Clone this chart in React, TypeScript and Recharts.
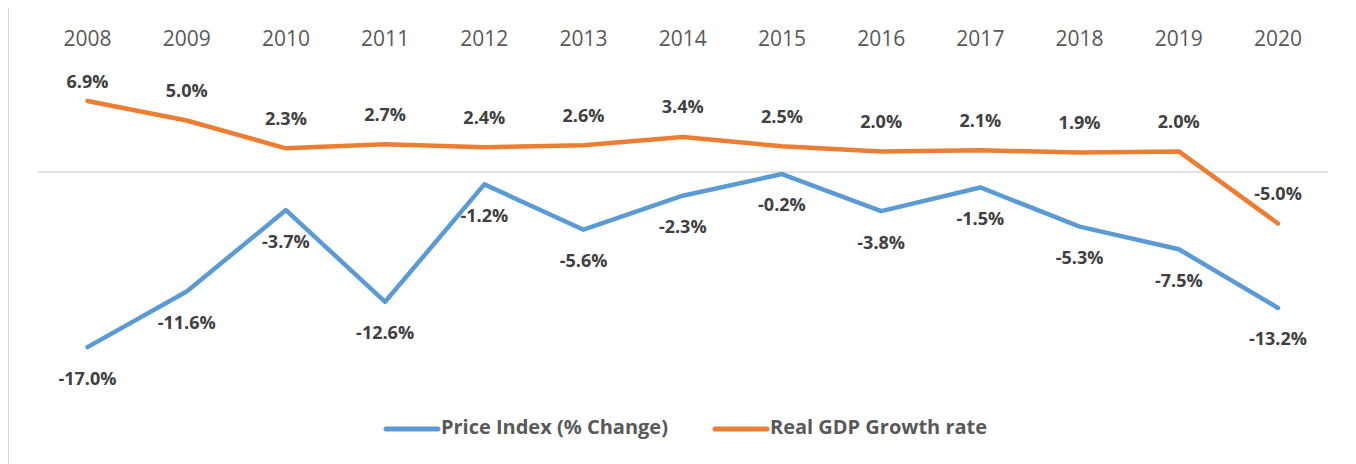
import React from 'react';
import { LineChart, Line, XAxis, YAxis, ReferenceLine, Legend } from 'recharts';

const years = ['2008', '2009', '2010', '2011', '2012', '2013', '2014', '2015', '2016', '2017', '2018', '2019', '2020'];
const priceIndex = [-17.0, -11.6, -3.7, -12.6, -1.2, -5.6, -2.3, -0.2, -3.8, -1.5, -5.3, -7.5, -13.2];
const gdpGrowth = [6.9, 5.0, 2.3, 2.7, 2.4, 2.6, 3.4, 2.5, 2.0, 2.1, 1.9, 2.0, -5.0];
const seriesNames = ['Price Index (% Change)', 'Real GDP Growth rate'];

const data = years.map((y, i) => ({ year: y, price: priceIndex[i], gdp: gdpGrowth[i] }));

const BLUE = '#5B9BD5';
const ORANGE = '#ED7D31';
const FONT = "'Open Sans', 'Noto Sans', sans-serif";

const fmt = (v: number) => `${v.toFixed(1)}%`;

const gdpLabel = (p: any) => {
  const y = Math.max(p.y - 23.6, 81.4);
  return (
    <text key={`g${p.index}`} x={p.x} y={y} textAnchor="middle" fontFamily={FONT} fontWeight={700} fontSize={18} fill="#404040">
      {fmt(p.value)}
    </text>
  );
};

const priceLabel = (p: any) => (
  <text key={`p${p.index}`} x={p.x} y={p.y + 37.4} textAnchor="middle" fontFamily={FONT} fontWeight={700} fontSize={18} fill="#404040">
    {fmt(p.value)}
  </text>
);

const renderLegend = () => {
  const items = [
    { name: seriesNames[0], color: BLUE },
    { name: seriesNames[1], color: ORANGE },
  ];
  return (
    <div style={{ display: 'flex', justifyContent: 'center', gap: 44, paddingLeft: 7, fontFamily: FONT, fontSize: 20, fontWeight: 700, color: '#595959', lineHeight: '24px' }}>
      {items.map((it) => (
        <div key={it.name} style={{ display: 'flex', alignItems: 'flex-start' }}>
          <svg width={58} height={24} style={{ display: 'block' }}>
            <line x1={3} y1={14} x2={55} y2={14} stroke={it.color} strokeWidth={5} strokeLinecap="round" />
          </svg>
          <span style={{ whiteSpace: 'nowrap' }}>{it.name}</span>
        </div>
      ))}
    </div>
  );
};

export default function App() {
  return (
    <div style={{ width: 1347, height: 470, border: '1px solid #d9d9d9', boxSizing: 'border-box', marginTop: -2, background: '#fff' }}>
      <LineChart width={1345} height={460} data={data} margin={{ top: 22, right: 26.4, bottom: 89, left: 28.9 }}>
        <XAxis
          dataKey="year"
          orientation="top"
          axisLine={false}
          tickLine={false}
          tickSize={0}
          tickMargin={23.3}
          height={40}
          interval={0}
          padding={{ left: 49.6, right: 49.6 }}
          tick={{ fontFamily: FONT, fontSize: 21, fill: '#595959' }}
        />
        <YAxis hide domain={[-20, 10]} />
        <ReferenceLine y={0} stroke="#d9d9d9" strokeWidth={1.5} />
        <Line
          type="linear"
          dataKey="price"
          name={seriesNames[0]}
          stroke={BLUE}
          strokeWidth={4.5}
          strokeLinecap="round"
          strokeLinejoin="round"
          dot={false}
          isAnimationActive={false}
          label={priceLabel}
        />
        <Line
          type="linear"
          dataKey="gdp"
          name={seriesNames[1]}
          stroke={ORANGE}
          strokeWidth={4.5}
          strokeLinecap="round"
          strokeLinejoin="round"
          dot={false}
          isAnimationActive={false}
          label={gdpLabel}
        />
        <Legend
          layout="horizontal"
          verticalAlign="middle"
          align="center"
          wrapperStyle={{ top: 408, left: 0, width: 1345 }}
          content={renderLegend}
        />
      </LineChart>
    </div>
  );
}
